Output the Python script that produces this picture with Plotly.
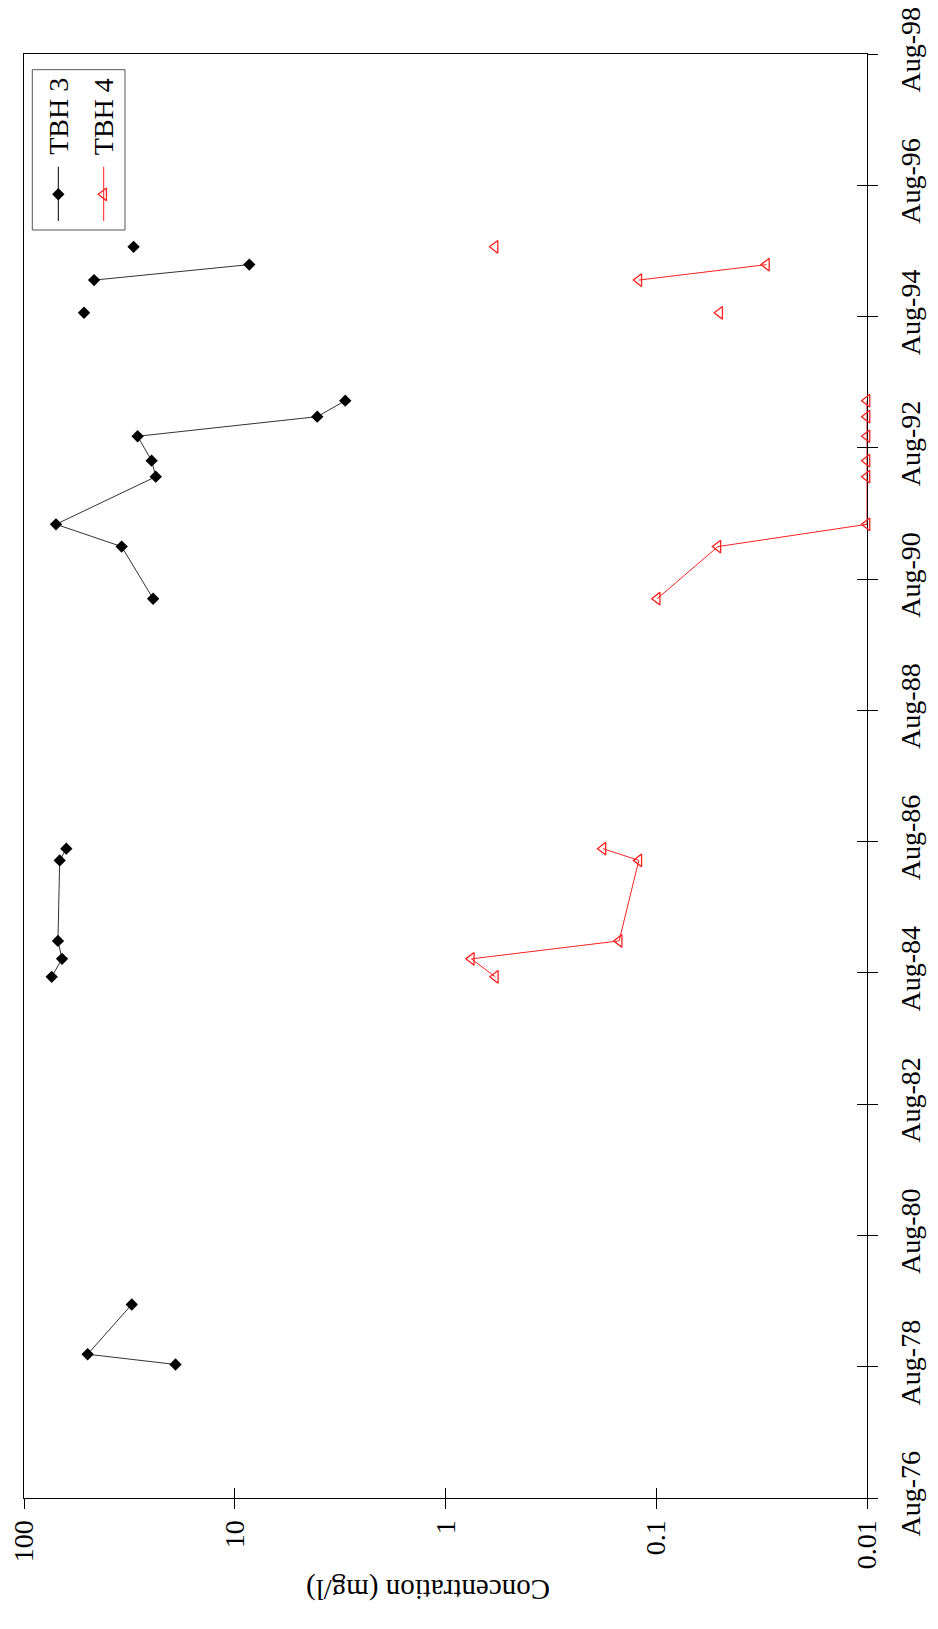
import plotly.graph_objects as go

# Sampling campaigns (rows in the same campaign are joined by a line)
campaign = [1, 1, 1,
            2, 2, 2, 2, 2,
            3, 3, 3, 3, 3, 3, 3, 3,
            4,
            5, 5,
            6]
sample_dates = ['1978-08-14', '1978-10-10', '1979-07-14',
                '1984-07-10', '1984-10-18', '1985-01-26', '1986-04-19', '1986-06-23',
                '1990-04-14', '1991-01-29', '1991-06-02', '1992-02-22', '1992-05-21',
                '1992-10-04', '1993-01-21', '1993-04-20',
                '1994-08-22',
                '1995-02-20', '1995-05-17',
                '1995-08-24']
tbh3 = [19.1, 49.9, 30.8,
        73.9, 66.0, 69.0, 67.7, 63.0,
        24.4, 34.4, 70.5, 23.7, 24.8, 28.9, 4.06, 2.99,
        51.9,
        46.5, 8.53,
        30.2]
tbh4 = [None, None, None,
        0.58, 0.754, 0.15, 0.121, 0.179,
        0.099, 0.051, 0.01, 0.01, 0.01, 0.01, 0.01, 0.01,
        0.05,
        0.121, 0.03,
        0.582]

date_ticks = ['1976-08-01', '1978-08-01', '1980-08-01', '1982-08-01', '1984-08-01',
              '1986-08-01', '1988-08-01', '1990-08-01', '1992-08-01', '1994-08-01',
              '1996-08-01', '1998-08-01']
date_labels = ['Aug-76', 'Aug-78', 'Aug-80', 'Aug-82', 'Aug-84', 'Aug-86',
               'Aug-88', 'Aug-90', 'Aug-92', 'Aug-94', 'Aug-96', 'Aug-98']
conc_ticks = [100, 10, 1, 0.1, 0.01]
conc_labels = ['100', '10', '1', '0.1', '0.01']

FONT = 'Liberation Serif, Times New Roman, Times, serif'
W, H = 938, 1629
PL, PR, PT, PB = 24, 867, 54, 1498   # plot area in page pixels


def fx(px):
    return (px - PL) / (PR - PL)


def fy(py):
    return (PB - py) / (PB - PT)


def broken(values):
    """Concentration/date lists with a break between campaigns."""
    xs, ys, prev = [], [], None
    for c, d, v in zip(campaign, sample_dates, values):
        if prev is not None and c != prev:
            xs.append(None)
            ys.append(None)
        xs.append(v)
        ys.append(d)
        prev = c
    return xs, ys


fig = go.Figure()

x3, y3 = broken(tbh3)
fig.add_trace(go.Scatter(
    x=x3, y=y3, mode='lines+markers', name='TBH 3', connectgaps=False,
    line=dict(color='#333333', width=1),
    marker=dict(symbol='diamond', size=9.5, color='black'),
    cliponaxis=False, showlegend=False))

x4, y4 = broken(tbh4)
fig.add_trace(go.Scatter(
    x=x4, y=y4, mode='lines+markers', name='TBH 4', connectgaps=False,
    line=dict(color='#ff2020', width=1),
    marker=dict(symbol='triangle-left-open', size=11, color='#ff2020',
                line=dict(width=1.3, color='#ff2020')),
    cliponaxis=False, showlegend=False))

# empty trace carrying the inner half of the tick marks
fig.add_trace(go.Scatter(x=[], y=[], xaxis='x2', yaxis='y2',
                         showlegend=False, hoverinfo='skip'))

# legend symbols, placed in plot-fraction coordinates
legend_names = ['TBH 3', 'TBH 4']
legend_x = [fx(58.3), fx(103.7)]
legend_y = fy(194.3)
fig.add_trace(go.Scatter(
    x=[legend_x[0]], y=[legend_y], xaxis='x3', yaxis='y3', mode='markers',
    marker=dict(symbol='diamond', size=9.5, color='black'),
    showlegend=False, hoverinfo='skip'))
fig.add_trace(go.Scatter(
    x=[legend_x[1]], y=[legend_y], xaxis='x3', yaxis='y3', mode='markers',
    marker=dict(symbol='triangle-left-open', size=11, color='#ff2020',
                line=dict(width=1.3, color='#ff2020')),
    showlegend=False, hoverinfo='skip'))

tickfont = dict(family=FONT, size=28, color='black')
common = dict(showgrid=False, zeroline=False, tickcolor='black', tickwidth=1, ticklen=10)

fig.update_layout(
    width=W, height=H, autosize=False,
    margin=dict(l=PL, r=W - PR, t=PT, b=H - PB, pad=0, autoexpand=False),
    paper_bgcolor='white', plot_bgcolor='white',
    font=dict(family=FONT, size=28, color='black'),
    xaxis=dict(type='log', range=[2, -2], tickmode='array', tickvals=conc_ticks,
               ticktext=conc_labels, tickangle=-90, ticks='outside',
               showline=True, linecolor='black', linewidth=1, mirror=True,
               tickfont=tickfont, **common),
    yaxis=dict(type='date', range=[date_ticks[0], date_ticks[-1]], side='right',
               tickmode='array', tickvals=date_ticks, ticktext=date_labels,
               tickangle=-90, ticks='outside', ticklabelstandoff=8,
               showline=True, linecolor='black', linewidth=1, mirror=True,
               layer='below traces', tickfont=tickfont, **common),
    xaxis2=dict(type='log', range=[2, -2], overlaying='x', anchor='y', side='bottom',
                tickmode='array', tickvals=conc_ticks, ticks='inside',
                showticklabels=False, showline=False, **common),
    yaxis2=dict(type='date', range=[date_ticks[0], date_ticks[-1]], overlaying='y',
                anchor='x', side='right', tickmode='array', tickvals=date_ticks,
                ticks='inside', showticklabels=False, showline=False, **common),
    xaxis3=dict(range=[0, 1], overlaying='x', visible=False, fixedrange=True),
    yaxis3=dict(range=[0, 1], overlaying='y', visible=False, fixedrange=True),
)

# legend frame and line samples
fig.add_shape(type='rect', xref='paper', yref='paper',
              x0=fx(32.3), x1=fx(125), y0=fy(230), y1=fy(69.7),
              line=dict(color='#555555', width=1), layer='below')
fig.add_shape(type='line', xref='paper', yref='paper',
              x0=legend_x[0], x1=legend_x[0], y0=fy(221), y1=fy(166.7),
              line=dict(color='black', width=1))
fig.add_shape(type='line', xref='paper', yref='paper',
              x0=legend_x[1], x1=legend_x[1], y0=fy(221), y1=fy(166.7),
              line=dict(color='#ff2020', width=1))
for name, lx in zip(legend_names, legend_x):
    fig.add_annotation(text=name, xref='paper', yref='paper', x=lx, y=fy(116.5),
                       xanchor='center', yanchor='middle',
                       textangle=-90, showarrow=False,
                       font=dict(family=FONT, size=28, color='black'))

# value axis title, turned with the chart
fig.add_annotation(text='Concentration (mg/l)', xref='paper', yref='paper',
                   x=fx(428), y=fy(1589), xanchor='center', yanchor='middle',
                   textangle=180, showarrow=False,
                   font=dict(family=FONT, size=29, color='black'))

fig.write_html('out.html')
